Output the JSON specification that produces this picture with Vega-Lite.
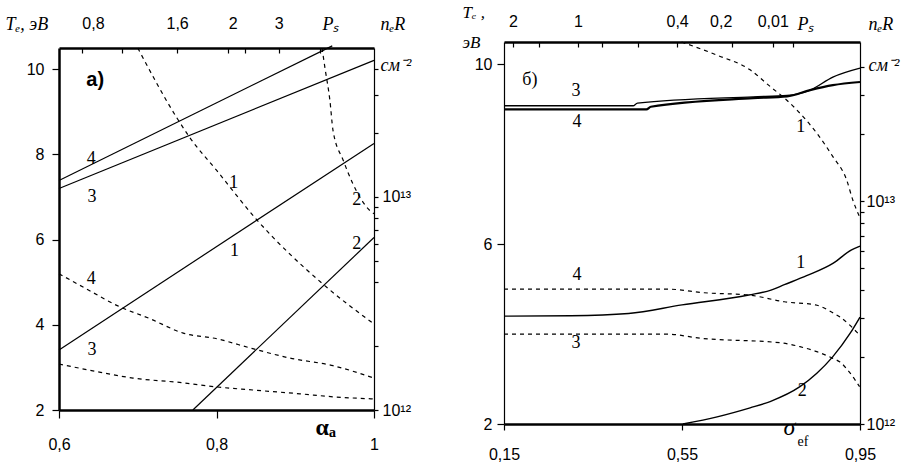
{
  "$schema": "https://vega.github.io/schema/vega-lite/v6.json",
  "background": "white",
  "padding": {"left": 5, "top": 3, "right": 5, "bottom": 5},
  "bounds": "flush",
  "spacing": 130,
  "datasets": {
    "a": [
      {"kind": "Te", "curve": "4", "x": 0.6, "y": 7.39}, {"kind": "Te", "curve": "4", "x": 0.947, "y": 10.55},
      {"kind": "Te", "curve": "3", "x": 0.6, "y": 7.2}, {"kind": "Te", "curve": "3", "x": 1.0, "y": 10.21},
      {"kind": "Te", "curve": "1", "x": 0.6, "y": 3.41}, {"kind": "Te", "curve": "1", "x": 1.0, "y": 8.26},
      {"kind": "Te", "curve": "2", "x": 0.77, "y": 2.0}, {"kind": "Te", "curve": "2", "x": 1.0, "y": 6.05},
      {"kind": "n", "curve": "1", "x": 0.70, "y": 10.5}, {"kind": "n", "curve": "1", "x": 0.75, "y": 8.85},
      {"kind": "n", "curve": "1", "x": 0.766, "y": 8.40}, {"kind": "n", "curve": "1", "x": 0.80, "y": 7.63},
      {"kind": "n", "curve": "1", "x": 0.851, "y": 6.47}, {"kind": "n", "curve": "1", "x": 0.935, "y": 4.96},
      {"kind": "n", "curve": "1", "x": 1.0, "y": 4.02},
      {"kind": "n", "curve": "2", "x": 0.934, "y": 10.5}, {"kind": "n", "curve": "2", "x": 0.938, "y": 10.0},
      {"kind": "n", "curve": "2", "x": 0.944, "y": 9.27}, {"kind": "n", "curve": "2", "x": 0.948, "y": 8.56},
      {"kind": "n", "curve": "2", "x": 0.961, "y": 7.86}, {"kind": "n", "curve": "2", "x": 0.973, "y": 7.32},
      {"kind": "n", "curve": "2", "x": 0.995, "y": 6.68}, {"kind": "n", "curve": "2", "x": 1.0, "y": 6.61},
      {"kind": "n", "curve": "4", "x": 0.6, "y": 5.2}, {"kind": "n", "curve": "4", "x": 0.639, "y": 4.8},
      {"kind": "n", "curve": "4", "x": 0.674, "y": 4.45}, {"kind": "n", "curve": "4", "x": 0.716, "y": 4.14},
      {"kind": "n", "curve": "4", "x": 0.757, "y": 3.81}, {"kind": "n", "curve": "4", "x": 0.801, "y": 3.67},
      {"kind": "n", "curve": "4", "x": 0.846, "y": 3.44}, {"kind": "n", "curve": "4", "x": 0.893, "y": 3.22},
      {"kind": "n", "curve": "4", "x": 0.948, "y": 3.04}, {"kind": "n", "curve": "4", "x": 1.0, "y": 2.75},
      {"kind": "n", "curve": "3", "x": 0.6, "y": 3.08}, {"kind": "n", "curve": "3", "x": 0.643, "y": 2.92},
      {"kind": "n", "curve": "3", "x": 0.694, "y": 2.75}, {"kind": "n", "curve": "3", "x": 0.757, "y": 2.64},
      {"kind": "n", "curve": "3", "x": 0.801, "y": 2.54}, {"kind": "n", "curve": "3", "x": 0.846, "y": 2.47},
      {"kind": "n", "curve": "3", "x": 0.906, "y": 2.38}, {"kind": "n", "curve": "3", "x": 0.948, "y": 2.31},
      {"kind": "n", "curve": "3", "x": 1.0, "y": 2.26}
    ],
    "a_lab": [
      {"t": "4", "x": 0.641, "y": 7.9}, {"t": "3", "x": 0.642, "y": 6.99},
      {"t": "1", "x": 0.822, "y": 7.34}, {"t": "1", "x": 0.823, "y": 5.74},
      {"t": "2", "x": 0.978, "y": 6.94}, {"t": "2", "x": 0.978, "y": 5.9},
      {"t": "4", "x": 0.641, "y": 5.08}, {"t": "3", "x": 0.642, "y": 3.41}
    ],
    "b": [
      {"kind": "Te", "curve": "3", "x": 0.15, "y": 9.08}, {"kind": "Te", "curve": "3", "x": 0.44, "y": 9.08},
      {"kind": "Te", "curve": "3", "x": 0.45, "y": 9.14}, {"kind": "Te", "curve": "3", "x": 0.71, "y": 9.28},
      {"kind": "Te", "curve": "3", "x": 0.786, "y": 9.31}, {"kind": "Te", "curve": "3", "x": 0.838, "y": 9.43},
      {"kind": "Te", "curve": "3", "x": 0.889, "y": 9.72}, {"kind": "Te", "curve": "3", "x": 0.95, "y": 9.92},
      {"kind": "Te", "curve": "4", "x": 0.15, "y": 9.0}, {"kind": "Te", "curve": "4", "x": 0.47, "y": 9.0},
      {"kind": "Te", "curve": "4", "x": 0.48, "y": 9.06}, {"kind": "Te", "curve": "4", "x": 0.71, "y": 9.25},
      {"kind": "Te", "curve": "4", "x": 0.786, "y": 9.29}, {"kind": "Te", "curve": "4", "x": 0.838, "y": 9.43},
      {"kind": "Te", "curve": "4", "x": 0.889, "y": 9.54}, {"kind": "Te", "curve": "4", "x": 0.95, "y": 9.61},
      {"kind": "Te", "curve": "1", "x": 0.15, "y": 4.40}, {"kind": "Te", "curve": "1", "x": 0.30, "y": 4.41},
      {"kind": "Te", "curve": "1", "x": 0.43, "y": 4.46}, {"kind": "Te", "curve": "1", "x": 0.55, "y": 4.65},
      {"kind": "Te", "curve": "1", "x": 0.70, "y": 4.87}, {"kind": "Te", "curve": "1", "x": 0.75, "y": 4.98},
      {"kind": "Te", "curve": "1", "x": 0.78, "y": 5.1}, {"kind": "Te", "curve": "1", "x": 0.83, "y": 5.30},
      {"kind": "Te", "curve": "1", "x": 0.89, "y": 5.58}, {"kind": "Te", "curve": "1", "x": 0.93, "y": 5.87},
      {"kind": "Te", "curve": "1", "x": 0.95, "y": 5.96},
      {"kind": "Te", "curve": "2", "x": 0.552, "y": 2.0}, {"kind": "Te", "curve": "2", "x": 0.629, "y": 2.16},
      {"kind": "Te", "curve": "2", "x": 0.703, "y": 2.36}, {"kind": "Te", "curve": "2", "x": 0.748, "y": 2.5},
      {"kind": "Te", "curve": "2", "x": 0.815, "y": 2.83}, {"kind": "Te", "curve": "2", "x": 0.853, "y": 3.13},
      {"kind": "Te", "curve": "2", "x": 0.889, "y": 3.5}, {"kind": "Te", "curve": "2", "x": 0.928, "y": 4.02},
      {"kind": "Te", "curve": "2", "x": 0.95, "y": 4.38},
      {"kind": "n", "curve": "1", "x": 0.549, "y": 10.5}, {"kind": "n", "curve": "1", "x": 0.628, "y": 10.21},
      {"kind": "n", "curve": "1", "x": 0.703, "y": 9.88}, {"kind": "n", "curve": "1", "x": 0.748, "y": 9.51},
      {"kind": "n", "curve": "1", "x": 0.785, "y": 9.21}, {"kind": "n", "curve": "1", "x": 0.822, "y": 8.84},
      {"kind": "n", "curve": "1", "x": 0.853, "y": 8.47}, {"kind": "n", "curve": "1", "x": 0.889, "y": 7.95},
      {"kind": "n", "curve": "1", "x": 0.92, "y": 7.43}, {"kind": "n", "curve": "1", "x": 0.934, "y": 6.98},
      {"kind": "n", "curve": "1", "x": 0.949, "y": 6.61},
      {"kind": "n", "curve": "4", "x": 0.15, "y": 5.0}, {"kind": "n", "curve": "4", "x": 0.52, "y": 5.0},
      {"kind": "n", "curve": "4", "x": 0.60, "y": 4.92}, {"kind": "n", "curve": "4", "x": 0.70, "y": 4.87},
      {"kind": "n", "curve": "4", "x": 0.78, "y": 4.72}, {"kind": "n", "curve": "4", "x": 0.85, "y": 4.65},
      {"kind": "n", "curve": "4", "x": 0.89, "y": 4.47}, {"kind": "n", "curve": "4", "x": 0.905, "y": 4.38},
      {"kind": "n", "curve": "4", "x": 0.95, "y": 3.97},
      {"kind": "n", "curve": "3", "x": 0.15, "y": 4.0}, {"kind": "n", "curve": "3", "x": 0.516, "y": 4.0},
      {"kind": "n", "curve": "3", "x": 0.59, "y": 3.91}, {"kind": "n", "curve": "3", "x": 0.777, "y": 3.8},
      {"kind": "n", "curve": "3", "x": 0.815, "y": 3.72}, {"kind": "n", "curve": "3", "x": 0.853, "y": 3.61},
      {"kind": "n", "curve": "3", "x": 0.889, "y": 3.46}, {"kind": "n", "curve": "3", "x": 0.905, "y": 3.38},
      {"kind": "n", "curve": "3", "x": 0.928, "y": 3.13}, {"kind": "n", "curve": "3", "x": 0.949, "y": 2.83}
    ],
    "b_lab": [
      {"t": "б)", "x": 0.208, "y": 9.65}, {"t": "3", "x": 0.312, "y": 9.41},
      {"t": "4", "x": 0.314, "y": 8.72}, {"t": "1", "x": 0.817, "y": 8.61},
      {"t": "1", "x": 0.817, "y": 5.58}, {"t": "4", "x": 0.314, "y": 5.32},
      {"t": "3", "x": 0.312, "y": 3.8}, {"t": "2", "x": 0.82, "y": 2.73}
    ]
  },
  "hconcat": [
    {
      "width": 315,
      "height": 368,
      "layer": [
        {
          "data": {"name": "a"},
          "transform": [{"filter": "datum.kind == 'Te'"}],
          "mark": {"type": "line", "color": "#000", "strokeWidth": 1.2},
          "encoding": {
            "x": {"field": "x", "type": "quantitative", "scale": {"domain": [0.6, 1], "nice": false, "zero": false},
              "axis": {"orient": "bottom", "values": [0.6, 0.8, 1], "labelExpr": "datum.value == 1 ? '1' : replace(format(datum.value, '.1f'), '.', ',')",
                "tickSize": 8, "labelPadding": 18, "domainWidth": 2.5,
                "title": "αₐ", "titleX": 256, "titleY": 24, "titleAngle": 0, "titleAlign": "left", "titleBaseline": "alphabetic",
                "titleFont": "Liberation Serif", "titleFontWeight": "bold", "titleFontSize": 24}},
            "y": {"field": "y", "type": "quantitative", "scale": {"domain": [2, 10.5], "range": [368, 6], "nice": false, "zero": false},
              "axis": {"orient": "left", "values": [2, 4, 6, 8, 10], "tickSize": 7, "labelPadding": 8, "domainWidth": 2.5,
                "title": "Tₑ, эВ", "titleX": -54, "titleY": -13, "titleAngle": 0, "titleAlign": "left", "titleBaseline": "alphabetic",
                "titleFont": "Liberation Serif", "titleFontStyle": "italic", "titleFontSize": 18}},
            "detail": {"field": "curve"}
          }
        },
        {
          "data": {"name": "a"},
          "transform": [{"filter": "datum.kind == 'n'"}],
          "mark": {"type": "line", "color": "#000", "strokeWidth": 1.2, "strokeDash": [4, 4], "interpolate": "monotone"},
          "encoding": {
            "x": {"field": "x", "type": "quantitative", "scale": {"domain": [0.6, 1], "nice": false, "zero": false}, "axis": null},
            "y": {"field": "y", "type": "quantitative", "scale": {"domain": [2, 10.5], "range": [368, 6], "nice": false, "zero": false}, "axis": null},
            "detail": {"field": "curve"}
          }
        },
        {
          "data": {"name": "a_lab"},
          "mark": {"type": "text", "font": "Liberation Serif", "fontSize": 18, "align": "center", "baseline": "middle", "color": "#000"},
          "encoding": {
            "x": {"field": "x", "type": "quantitative", "scale": {"domain": [0.6, 1], "nice": false, "zero": false}, "axis": null},
            "y": {"field": "y", "type": "quantitative", "scale": {"domain": [2, 10.5], "range": [368, 6], "nice": false, "zero": false}, "axis": null},
            "text": {"field": "t"}
          }
        },
        {
          "data": {"values": [{"t": "а)", "x": 0.646, "y": 9.74}]},
          "mark": {"type": "text", "font": "Liberation Sans", "fontSize": 20, "fontWeight": "bold", "align": "center", "baseline": "middle", "color": "#000"},
          "encoding": {
            "x": {"field": "x", "type": "quantitative", "scale": {"domain": [0.6, 1], "nice": false, "zero": false}, "axis": null},
            "y": {"field": "y", "type": "quantitative", "scale": {"domain": [2, 10.5], "range": [368, 6], "nice": false, "zero": false}, "axis": null},
            "text": {"field": "t"}
          }
        },
        {
          "data": {"values": [{"x": 0.6}, {"x": 1}]},
          "mark": {"type": "point", "opacity": 0},
          "encoding": {
            "x": {"field": "x", "type": "quantitative", "scale": {"domain": [0.6, 1], "nice": false, "zero": false},
              "axis": {"orient": "top", "offset": -6, "values": [0.629, 0.68, 0.75, 0.815, 0.836, 0.879, 0.931],
                "labelExpr": "datum.value < 0.65 ? '0,8' : (datum.value > 0.74 && datum.value < 0.76) ? '1,6' : (datum.value > 0.81 && datum.value < 0.82) ? '2' : (datum.value > 0.87 && datum.value < 0.89) ? '3' : ''",
                "labelAlign": {"condition": {"test": "datum.value < 0.65 || (datum.value > 0.81 && datum.value < 0.82)", "value": "left"}, "value": "center"},
                "tickSize": -5, "labelPadding": 22, "domainWidth": 2.5,
                "title": "Pₛ", "titleX": 263, "titleY": -19, "titleAngle": 0, "titleAlign": "left", "titleBaseline": "alphabetic",
                "titleFont": "Liberation Serif", "titleFontStyle": "italic", "titleFontSize": 18}}
          }
        },
        {
          "data": {"values": [{"n": 1e12}, {"n": 5e13}]},
          "mark": {"type": "point", "opacity": 0},
          "encoding": {
            "y": {"field": "n", "type": "quantitative", "scale": {"type": "log", "domain": [1e12, 5e13], "range": [368, 6]},
              "axis": {"orient": "right", "values": [1e12, 2e12, 4e12, 5e12, 6e12, 7e12, 8e12, 9e12, 1e13, 2e13, 3e13, 4e13],
                "labelExpr": "datum.value == 1e12 ? '10¹²' : datum.value == 1e13 ? '10¹³' : ''",
                "tickSize": 4, "labelPadding": 4, "domainWidth": 1.2,
                "title": ["nₑR", "см⁻²"], "titleX": 6, "titleY": -13, "titleLineHeight": 41, "titleAngle": 0, "titleAlign": "left", "titleBaseline": "alphabetic",
                "titleFont": "Liberation Serif", "titleFontStyle": "italic", "titleFontSize": 18}}
          }
        }
      ],
      "resolve": {"scale": {"y": "independent"}, "axis": {"x": "independent", "y": "independent"}}
    },
    {
      "width": 356,
      "height": 382,
      "layer": [
        {
          "data": {"name": "b"},
          "transform": [{"filter": "datum.kind == 'Te' && datum.curve != '4'"}],
          "mark": {"type": "line", "color": "#000", "strokeWidth": 1.4, "interpolate": "monotone"},
          "encoding": {
            "x": {"field": "x", "type": "quantitative", "scale": {"domain": [0.15, 0.95], "nice": false, "zero": false},
              "axis": {"orient": "bottom", "values": [0.15, 0.55, 0.95], "labelExpr": "replace(format(datum.value, '.2f'), '.', ',')",
                "tickSize": 6, "labelPadding": 16, "domainWidth": 2.5,
                "title": "σ", "titleX": 279, "titleY": 10, "titleAngle": 0, "titleAlign": "left", "titleBaseline": "alphabetic",
                "titleFont": "Liberation Serif", "titleFontStyle": "italic", "titleFontSize": 24}},
            "y": {"field": "y", "type": "quantitative", "scale": {"domain": [2, 10.5], "nice": false, "zero": false},
              "axis": {"orient": "left", "values": [2, 6, 10], "tickSize": 7, "labelPadding": 5, "domainWidth": 1.2,
                "title": ["Tₑ ,", "эВ"], "titleX": -42, "titleY": -25, "titleLineHeight": 30, "titleAngle": 0, "titleAlign": "left", "titleBaseline": "alphabetic",
                "titleFont": "Liberation Serif", "titleFontStyle": "italic", "titleFontSize": 17}},
            "detail": {"field": "curve"}
          }
        },
        {
          "data": {"name": "b"},
          "transform": [{"filter": "datum.kind == 'Te' && datum.curve == '4'"}],
          "mark": {"type": "line", "color": "#000", "strokeWidth": 2.2, "interpolate": "monotone"},
          "encoding": {
            "x": {"field": "x", "type": "quantitative", "scale": {"domain": [0.15, 0.95], "nice": false, "zero": false}, "axis": null},
            "y": {"field": "y", "type": "quantitative", "scale": {"domain": [2, 10.5], "nice": false, "zero": false}, "axis": null}
          }
        },
        {
          "data": {"name": "b"},
          "transform": [{"filter": "datum.kind == 'n'"}],
          "mark": {"type": "line", "color": "#000", "strokeWidth": 1.2, "strokeDash": [4, 4], "interpolate": "monotone"},
          "encoding": {
            "x": {"field": "x", "type": "quantitative", "scale": {"domain": [0.15, 0.95], "nice": false, "zero": false}, "axis": null},
            "y": {"field": "y", "type": "quantitative", "scale": {"domain": [2, 10.5], "nice": false, "zero": false}, "axis": null},
            "detail": {"field": "curve"}
          }
        },
        {
          "data": {"name": "b_lab"},
          "mark": {"type": "text", "font": "Liberation Serif", "fontSize": 18, "align": "center", "baseline": "middle", "color": "#000"},
          "encoding": {
            "x": {"field": "x", "type": "quantitative", "scale": {"domain": [0.15, 0.95], "nice": false, "zero": false}, "axis": null},
            "y": {"field": "y", "type": "quantitative", "scale": {"domain": [2, 10.5], "nice": false, "zero": false}, "axis": null},
            "text": {"field": "t"}
          }
        },
        {
          "data": {"values": [{"t": "ef", "x": 0.822, "y": 1.6}]},
          "mark": {"type": "text", "font": "Liberation Serif", "fontSize": 14, "align": "center", "baseline": "middle", "color": "#000"},
          "encoding": {
            "x": {"field": "x", "type": "quantitative", "scale": {"domain": [0.15, 0.95], "nice": false, "zero": false}, "axis": null},
            "y": {"field": "y", "type": "quantitative", "scale": {"domain": [2, 10.5], "nice": false, "zero": false}, "axis": null},
            "text": {"field": "t"}
          }
        },
        {
          "data": {"values": [{"x": 0.15}, {"x": 0.95}]},
          "mark": {"type": "point", "opacity": 0},
          "encoding": {
            "x": {"field": "x", "type": "quantitative", "scale": {"domain": [0.15, 0.95], "nice": false, "zero": false},
              "axis": {"orient": "top", "values": [0.17, 0.229, 0.316, 0.37, 0.451, 0.539, 0.662, 0.754, 0.799],
                "labelExpr": "datum.value < 0.2 ? '2' : (datum.value > 0.3 && datum.value < 0.33) ? '1' : (datum.value > 0.53 && datum.value < 0.55) ? '0,4' : (datum.value > 0.65 && datum.value < 0.67) ? '0,2' : (datum.value > 0.75 && datum.value < 0.76) ? '0,01' : ''",
                "labelAlign": {"condition": {"test": "datum.value > 0.65 && datum.value < 0.67", "value": "right"}, "value": "center"},
                "tickSize": -5, "labelPadding": 18, "domainWidth": 2.5,
                "title": "Pₛ", "titleX": 293, "titleY": -13, "titleAngle": 0, "titleAlign": "left", "titleBaseline": "alphabetic",
                "titleFont": "Liberation Serif", "titleFontStyle": "italic", "titleFontSize": 18}}
          }
        },
        {
          "data": {"values": [{"n": 1e12}, {"n": 5.2e13}]},
          "mark": {"type": "point", "opacity": 0},
          "encoding": {
            "y": {"field": "n", "type": "quantitative", "scale": {"type": "log", "domain": [1e12, 5.2e13]},
              "axis": {"orient": "right", "values": [1e12, 2e12, 3e12, 4e12, 5e12, 6e12, 7e12, 8e12, 9e12, 1e13, 2e13, 3e13, 4e13],
                "labelExpr": "datum.value == 1e12 ? '10¹²' : datum.value == 1e13 ? '10¹³' : ''",
                "tickSize": 4, "labelPadding": 2, "domainWidth": 1.2,
                "title": ["nₑR", "см⁻²"], "titleX": 8, "titleY": -13, "titleLineHeight": 41, "titleAngle": 0, "titleAlign": "left", "titleBaseline": "alphabetic",
                "titleFont": "Liberation Serif", "titleFontStyle": "italic", "titleFontSize": 18}}
          }
        }
      ],
      "resolve": {"scale": {"y": "independent"}, "axis": {"x": "independent", "y": "independent"}}
    }
  ],
  "config": {
    "view": {"stroke": null},
    "axis": {"grid": false, "domainColor": "#000", "tickColor": "#000", "labelColor": "#000", "titleColor": "#000",
      "labelFont": "Liberation Sans", "labelFontSize": 16, "labelOverlap": false, "labelFlush": false, "tickWidth": 1.2, "titleFontWeight": "normal"}
  }
}
